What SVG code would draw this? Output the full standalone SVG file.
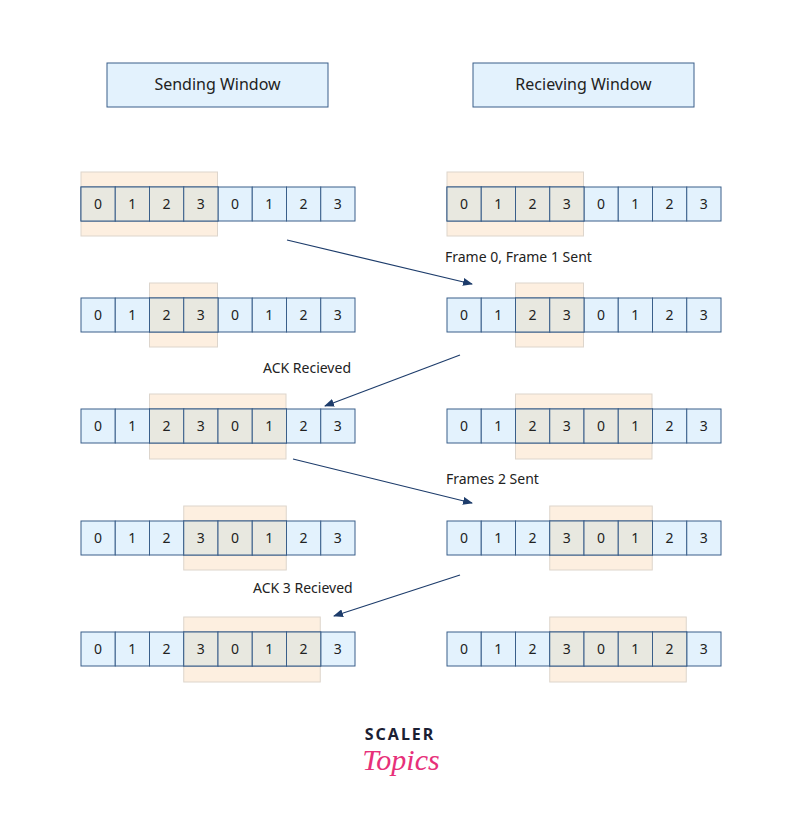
<svg xmlns="http://www.w3.org/2000/svg" width="800" height="826" viewBox="0 0 800 826">
<style>
text{font-family:"Noto Sans","Open Sans",sans-serif;fill:#222}
.h{fill:#e3f2fd;stroke:#3a5f8a;stroke-width:1}
.hl{fill:#fdefe0;stroke:#ddd5cc;stroke-width:1}
.c{fill:#e3f2fd;stroke:#3a5f8a;stroke-width:1}
.s{fill:#e8e8e0;stroke:#3a5f8a;stroke-width:1}
.n{font-size:14px;text-anchor:middle}
.lbl{font-size:14px}
.ar{stroke:#1d3c6b;stroke-width:1.2;fill:none;marker-end:url(#m)}
</style>
<defs>
<marker id="m" markerWidth="10" markerHeight="8" refX="9" refY="4" orient="auto" markerUnits="userSpaceOnUse"><path d="M0,0L10,4L0,8z" fill="#1d3c6b"/></marker>
<g id="cells">
<rect x="0" y="0" width="34.25" height="34"/><rect x="34.25" y="0" width="34.25" height="34"/><rect x="68.5" y="0" width="34.25" height="34"/><rect x="102.75" y="0" width="34.25" height="34"/><rect x="137" y="0" width="34.25" height="34"/><rect x="171.25" y="0" width="34.25" height="34"/><rect x="205.5" y="0" width="34.25" height="34"/><rect x="239.75" y="0" width="34.25" height="34"/>
</g>
<g id="nums" class="n">
<text x="17" y="0">0</text><text x="51.25" y="0">1</text><text x="85.5" y="0">2</text><text x="119.75" y="0">3</text><text x="154" y="0">0</text><text x="188.25" y="0">1</text><text x="222.5" y="0">2</text><text x="256.75" y="0">3</text>
</g>
</defs>
<rect width="800" height="826" fill="#fff"/>
<g id="hdrs">
<rect class="h" x="107" y="63" width="221" height="44"/>
<text x="217.5" y="90" font-size="16" text-anchor="middle">Sending Window</text>
<rect class="h" x="473" y="63" width="221" height="44"/>
<text x="583.5" y="90" font-size="16" text-anchor="middle">Recieving Window</text>
</g>
<g id="rows">
<g id="r1" transform="translate(0,187)">
<rect class="hl" x="81" y="-15" width="136.5" height="64"/><rect class="hl" x="447" y="-15" width="136.5" height="64"/>
</g>
<g id="r2" transform="translate(0,298)">
<rect class="hl" x="149.5" y="-15" width="68" height="64"/><rect class="hl" x="515.5" y="-15" width="68" height="64"/>
</g>
<g id="r3" transform="translate(0,409)">
<rect class="hl" x="149.5" y="-15" width="136.5" height="65"/><rect class="hl" x="515.5" y="-15" width="136.5" height="65"/>
</g>
<g id="r4" transform="translate(0,521)">
<rect class="hl" x="183.75" y="-15" width="102.5" height="64"/><rect class="hl" x="549.75" y="-15" width="102.5" height="64"/>
</g>
<g id="r5" transform="translate(0,632)">
<rect class="hl" x="183.75" y="-15" width="136.5" height="65"/><rect class="hl" x="549.75" y="-15" width="136.5" height="65"/>
</g>
</g>
<g id="cellrows" class="c">
<use href="#cells" x="81" y="187"/><use href="#cells" x="447" y="187"/>
<use href="#cells" x="81" y="298"/><use href="#cells" x="447" y="298"/>
<use href="#cells" x="81" y="409"/><use href="#cells" x="447" y="409"/>
<use href="#cells" x="81" y="521"/><use href="#cells" x="447" y="521"/>
<use href="#cells" x="81" y="632"/><use href="#cells" x="447" y="632"/>
</g>
<g id="sel" class="s">
<rect x="81" y="187" width="34.25" height="34"/><rect x="115.25" y="187" width="34.25" height="34"/><rect x="149.5" y="187" width="34.25" height="34"/><rect x="183.75" y="187" width="34.25" height="34"/>
<rect x="447" y="187" width="34.25" height="34"/><rect x="481.25" y="187" width="34.25" height="34"/><rect x="515.5" y="187" width="34.25" height="34"/><rect x="549.75" y="187" width="34.25" height="34"/>
<rect x="149.5" y="298" width="34.25" height="34"/><rect x="183.75" y="298" width="34.25" height="34"/>
<rect x="515.5" y="298" width="34.25" height="34"/><rect x="549.75" y="298" width="34.25" height="34"/>
<rect x="149.5" y="409" width="34.25" height="34"/><rect x="183.75" y="409" width="34.25" height="34"/><rect x="218" y="409" width="34.25" height="34"/><rect x="252.25" y="409" width="34.25" height="34"/>
<rect x="515.5" y="409" width="34.25" height="34"/><rect x="549.75" y="409" width="34.25" height="34"/><rect x="584" y="409" width="34.25" height="34"/><rect x="618.25" y="409" width="34.25" height="34"/>
<rect x="183.75" y="521" width="34.25" height="34"/><rect x="218" y="521" width="34.25" height="34"/><rect x="252.25" y="521" width="34.25" height="34"/>
<rect x="549.75" y="521" width="34.25" height="34"/><rect x="584" y="521" width="34.25" height="34"/><rect x="618.25" y="521" width="34.25" height="34"/>
<rect x="183.75" y="632" width="34.25" height="34"/><rect x="218" y="632" width="34.25" height="34"/><rect x="252.25" y="632" width="34.25" height="34"/><rect x="286.5" y="632" width="34.25" height="34"/>
<rect x="549.75" y="632" width="34.25" height="34"/><rect x="584" y="632" width="34.25" height="34"/><rect x="618.25" y="632" width="34.25" height="34"/><rect x="652.5" y="632" width="34.25" height="34"/>
</g>
<g id="numbers">
<use href="#nums" x="81" y="209"/><use href="#nums" x="447" y="209"/>
<use href="#nums" x="81" y="320"/><use href="#nums" x="447" y="320"/>
<use href="#nums" x="81" y="431"/><use href="#nums" x="447" y="431"/>
<use href="#nums" x="81" y="543"/><use href="#nums" x="447" y="543"/>
<use href="#nums" x="81" y="654"/><use href="#nums" x="447" y="654"/>
</g>
<g id="connectors">
<line class="ar" x1="287" y1="240" x2="472" y2="284"/>
<line class="ar" x1="460" y1="355" x2="325" y2="406"/>
<line class="ar" x1="293" y1="459" x2="472" y2="503"/>
<line class="ar" x1="460" y1="575" x2="334" y2="616"/>
</g>
<g id="labels" class="lbl">
<text x="445" y="262">Frame 0, Frame 1 Sent</text>
<text x="263" y="373">ACK Recieved</text>
<text x="446" y="484">Frames 2 Sent</text>
<text x="253" y="593">ACK 3 Recieved</text>
</g>
<g id="logo">
<text x="400" y="740" text-anchor="middle" font-size="16" font-weight="bold" letter-spacing="2" style="fill:#1b2033">SCALER</text>
<text x="401" y="770" text-anchor="middle" font-size="30" font-style="italic" style="fill:#e7307a;font-family:'Liberation Serif',serif">Topics</text>
</g>
</svg>
